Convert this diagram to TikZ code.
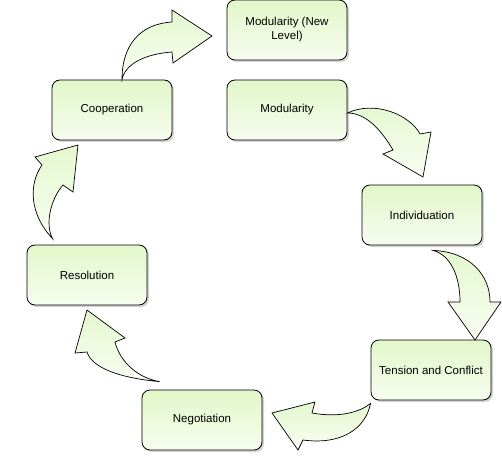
\documentclass[tikz,border=0pt]{standalone}
\usepackage{fontspec}
\setmainfont{Liberation Sans}
\usetikzlibrary{shadows}
\definecolor{stagegreen}{HTML}{E2F7C9}
\definecolor{arrowgreen}{HTML}{E4F8CE}
\begin{document}
\begin{tikzpicture}[x=1pt,y=-1pt,
    stage/.style={rectangle,draw,line width=0.8pt,rounded corners=8pt,
      minimum width=120pt,minimum height=60pt,align=center,
      top color=stagegreen,bottom color=stagegreen!30!white,
      drop shadow={shadow xshift=2pt,shadow yshift=-2pt,opacity=0.35,fill=gray},
      font=\fontsize{11.5}{14}\selectfont},
    bigarrow/.style={draw,line width=0.7pt,line join=miter,
      top color=arrowgreen,bottom color=arrowgreen!25!white}]
      \useasboundingbox (0,0) rectangle (502,470);

      \node[stage] (modnew) at (287,30) {Modularity (New\\Level)};
      \node[stage] (mod) at (287,110) {Modularity};
      \node[stage] (coop) at (112,110) {Cooperation};
      \node[stage] (indiv) at (422,215) {Individuation};
      \node[stage] (tension) at (431,370) {Tension and Conflict};
      \node[stage] (negot) at (202,420) {Negotiation};
      \node[stage] (resol) at (87,275) {Resolution};

      % tails of the curved arrows
      \coordinate (coopout) at ([xshift=10pt]coop.north);
      \coordinate (modout) at ([yshift=-3pt]mod.east);
      \coordinate (indivout) at ([xshift=11pt,yshift=-5pt]indiv.south);
      \coordinate (tensionout) at ([yshift=-3pt]tension.south west);
      \coordinate (negotout) at ([xshift=18pt,yshift=8pt]negot.north west);
      \coordinate (resolout) at ([xshift=26pt,yshift=6pt]resol.north west);

      \draw[bigarrow] (coopout) .. controls (122,45) and (140,24) .. (172,22)
        -- (172,10) -- (212,36) -- (173,63) -- (172,52)
        .. controls (145,54) and (125,64) .. (coopout) -- cycle;
      \draw[bigarrow] (modout) .. controls (375,100) and (410,115) .. (420,134)
        -- (431,132) -- (423,177) -- (383,154) -- (393,150)
        .. controls (380,128) and (365,113) .. (modout) -- cycle;
      \draw[bigarrow] (indivout) .. controls (470,252) and (490,275) .. (490,302)
        -- (501,302) -- (475,340) -- (448,302) -- (460,302)
        .. controls (460,275) and (450,255) .. (indivout) -- cycle;
      \draw[bigarrow] (tensionout) .. controls (360,412) and (340,418) .. (312,413)
        -- (315,402) -- (272,413) -- (298,450) -- (303,440)
        .. controls (340,445) and (365,430) .. (tensionout) -- cycle;
      \draw[bigarrow] (negotout) .. controls (120,378) and (92,368) .. (87,352)
        -- (75,353) -- (87,310) -- (125,338) -- (115,342)
        .. controls (120,362) and (138,378) .. (negotout) -- cycle;
      \draw[bigarrow] (resolout) .. controls (30,215) and (28,185) .. (42,165)
        -- (35,157) -- (78,145) -- (73,192) -- (63,185)
        .. controls (50,200) and (45,225) .. (resolout) -- cycle;

    \end{tikzpicture}
\end{document}
